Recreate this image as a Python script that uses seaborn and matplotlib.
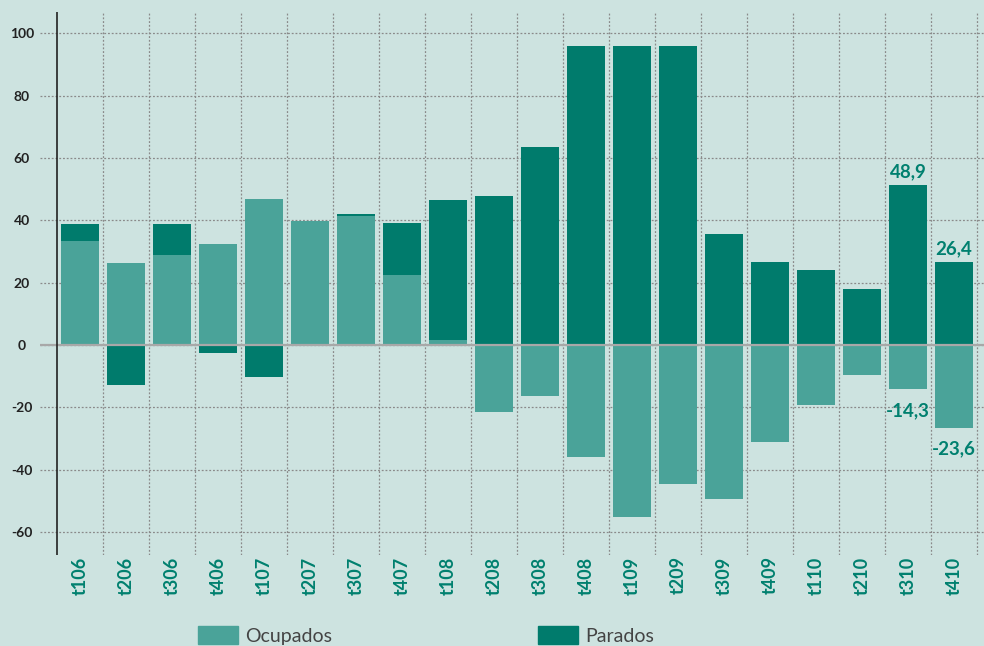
import numpy as np
import pandas as pd
import seaborn as sns
import matplotlib.pyplot as plt
from matplotlib.patches import Patch

# quarters
periodos = ['t106', 't206', 't306', 't406', 't107', 't207', 't307', 't407',
            't108', 't208', 't308', 't408', 't109', 't209', 't309', 't409',
            't110', 't210', 't310', 't410']

# values
ocupados = [33.4, 26.3, 28.9, 32.4, 46.8, 39.6, 41.3, 22.5, 1.6, -21.4,
            -16.3, -36.1, -55.1, -44.6, -49.4, -31.1, -19.2, -9.6, -14.1, -26.5]
parados = [5.4, -12.8, 9.9, -2.6, -10.2, 0.0, 0.7, 16.6, 44.9, 47.8,
           63.5, 95.9, 95.9, 95.9, 35.6, 26.6, 24.1, 18.0, 51.3, 26.6]

# printed labels on the last two quarters
etiquetas_parados = {'t310': '48,9', 't410': '26,4'}
etiquetas_ocupados = {'t310': '-14,3', 't410': '-23,6'}

BG = '#cde3e0'
CLARO = '#4aa399'
OSCURO = '#007b6c'
TEXTO = '#00806f'

df = pd.DataFrame({'periodo': periodos, 'Ocupados': ocupados, 'Parados': parados})
# stack Parados on Ocupados only when both go the same way
mismo_signo = np.sign(df['Ocupados']) == np.sign(df['Parados'])
df['tope'] = np.where(mismo_signo, df['Ocupados'] + df['Parados'], df['Parados'])

sns.set_style('white')
plt.rcParams['font.family'] = ['Lato', 'DejaVu Sans']
plt.rcParams['axes.unicode_minus'] = False

fig = plt.figure(figsize=(9.84, 6.46), dpi=100, facecolor=BG)
ax = fig.add_axes([40 / 984, 1 - 555 / 646, 944 / 984, 543 / 646])
ax.set_facecolor(BG)

sns.barplot(data=df, x='periodo', y='tope', color=OSCURO, saturation=1,
            width=0.83, linewidth=0, errorbar=None, ax=ax, zorder=2)
sns.barplot(data=df, x='periodo', y='Ocupados', color=CLARO, saturation=1,
            width=0.83, linewidth=0, errorbar=None, ax=ax, zorder=3)

ax.set_xlim(-0.87, 19.65)
ax.set_ylim(-67.4, 106.8)
ax.set_yticks(range(-60, 101, 20))
ax.set_xticks(np.arange(0.5, 20, 1), minor=True)

ax.grid(axis='y', which='major', color='#8a8a8a', linestyle=(0, (1.5, 1.5)), lw=0.9, zorder=0)
ax.grid(axis='x', which='minor', color='#8a8a8a', linestyle=(0, (1.5, 1.5)), lw=0.9, zorder=0)
ax.axhline(0, color='#a8a8a8', lw=1.6, zorder=4)
ax.axvline(-0.5, color='#222222', lw=1.2, zorder=5)

for s in ax.spines.values():
    s.set_visible(False)

ax.set_xlabel('')
ax.set_ylabel('')
ax.tick_params(axis='both', which='both', length=0)
ax.tick_params(axis='y', pad=13, labelsize=10, labelcolor='#222222')
ax.tick_params(axis='x', pad=1, labelsize=13, labelcolor=TEXTO, rotation=90)
for t in ax.get_yticklabels():
    t.set_horizontalalignment('center')
    t.set_fontweight('bold')
for t in ax.get_xticklabels():
    t.set_fontweight('bold')

# value labels
for i, p in enumerate(periodos):
    if p in etiquetas_parados:
        ax.annotate(etiquetas_parados[p], (i, df['tope'][i]), xytext=(0, 5.4),
                    textcoords='offset points', ha='center', va='baseline',
                    fontsize=13.5, fontweight='bold', color=TEXTO, zorder=6)
    if p in etiquetas_ocupados:
        ax.annotate(etiquetas_ocupados[p], (i, df['Ocupados'][i]), xytext=(0, -19.5),
                    textcoords='offset points', ha='center', va='baseline',
                    fontsize=13.5, fontweight='bold', color=TEXTO, zorder=6)

handles = [Patch(color=CLARO, label='Ocupados'), Patch(color=OSCURO, label='Parados')]
leg = fig.legend(handles=handles, loc='upper left', bbox_to_anchor=(198 / 984, 1 - 626 / 646),
                 ncol=2, frameon=False, fontsize=14, handlelength=2.05, handleheight=1.03,
                 handletextpad=0.37, columnspacing=10.6, borderpad=0, borderaxespad=0)
for t in leg.get_texts():
    t.set_color('#444444')

fig.savefig('out.png', dpi=100, facecolor=BG)
